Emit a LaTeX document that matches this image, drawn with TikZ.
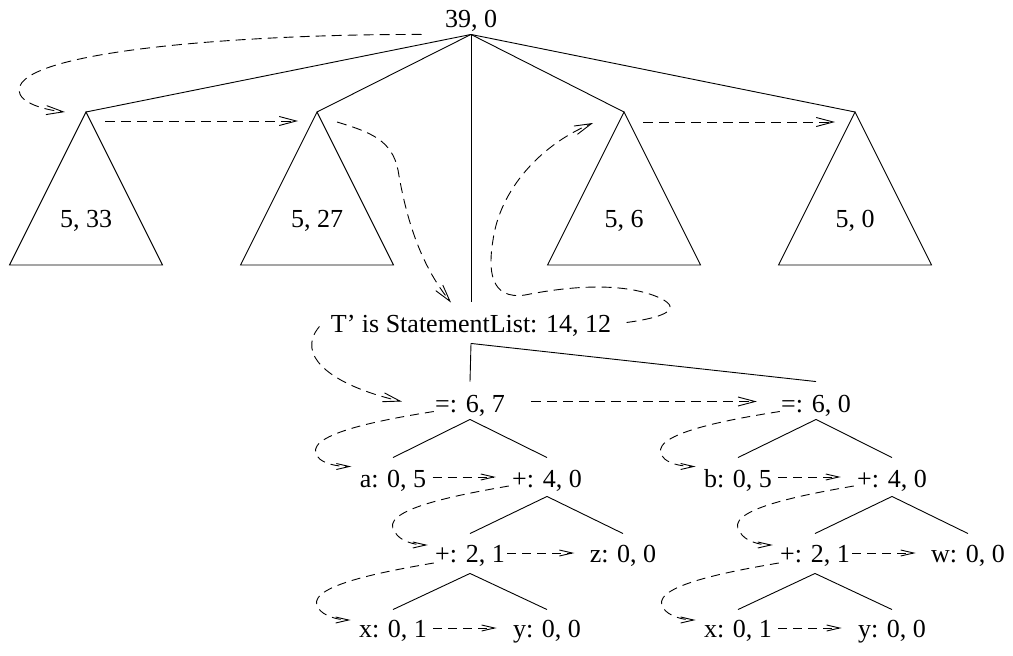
\documentclass[tikz,border=0pt]{standalone}
\usepackage{fontspec}
\setmainfont{Liberation Serif}
\usetikzlibrary{arrows.meta}
\begin{document}
\begin{tikzpicture}[x=1pt,y=-1pt,line width=0.9pt,
  lbl/.style={anchor=base,inner xsep=1pt,inner ysep=0pt,text height=18pt,text depth=7pt,font=\fontsize{26}{30}\selectfont},
  trav/.style={dash pattern=on 10pt off 6pt,-{Straight Barb[length=17pt,width=9pt]}},
  travs/.style={dash pattern=on 9pt off 6pt,-{Straight Barb[length=13pt,width=6pt]}}]
\useasboundingbox (0,0) rectangle (1013,656);
% upper level
\node[lbl] (root) at (471,27) {39, 0};
\coordinate (t1) at (86,112);
\coordinate (t2) at (317,112);
\coordinate (t3) at (624,112);
\coordinate (t4) at (855,112);
\foreach \t in {t1,t2,t3,t4}{
  \draw (\t) -- ++(-76.5,153) -- ++(153,0) -- cycle;
  \draw (root.south) -- (\t);
}
\node[lbl] (s1) at (86,227) {5, 33};
\node[lbl] (s2) at (317,227) {5, 27};
\node[lbl] (s3) at (624,227) {5, 6};
\node[lbl] (s4) at (855,227) {5, 0};
\node[lbl] (tl) at (471,332) {T' is StatementList: 14, 12};
\draw (root.south) -- ([yshift=12pt]tl.north);
% lower trees
\node[lbl] (e1) at (470,412) {=: 6, 7};
\node[lbl] (a)  at (393,487) {a: 0, 5};
\node[lbl] (p1) at (547,487) {+: 4, 0};
\node[lbl] (q1) at (470,562) {+: 2, 1};
\node[lbl] (z)  at (623,562) {z: 0, 0};
\node[lbl] (x1) at (393,637) {x: 0, 1};
\node[lbl] (y1) at (547,637) {y: 0, 0};
\node[lbl] (e2) at (816,412) {=: 6, 0};
\node[lbl] (b)  at (738,487) {b: 0, 5};
\node[lbl] (p2) at (892,487) {+: 4, 0};
\node[lbl] (q2) at (815,562) {+: 2, 1};
\node[lbl] (w)  at (968,562) {w: 0, 0};
\node[lbl] (x2) at (738,637) {x: 0, 1};
\node[lbl] (y2) at (892,637) {y: 0, 0};
\draw ([yshift=-4pt]tl.south) -- ([yshift=12pt]e1.north);
\draw ([yshift=-4pt]tl.south) -- ([yshift=12pt]e2.north);
\draw (e1.south) -- ([yshift=11pt]a.north);
\draw (e1.south) -- ([yshift=11pt]p1.north);
\draw ([yshift=-2pt]p1.south) -- ([yshift=10pt]q1.north);
\draw ([yshift=-2pt]p1.south) -- ([yshift=10pt]z.north);
\draw ([yshift=-4pt]q1.south) -- ([yshift=9pt]x1.north);
\draw ([yshift=-4pt]q1.south) -- ([yshift=9pt]y1.north);
\draw (e2.south) -- ([yshift=11pt]b.north);
\draw (e2.south) -- ([yshift=11pt]p2.north);
\draw ([yshift=-2pt]p2.south) -- ([yshift=10pt]q2.north);
\draw ([yshift=-2pt]p2.south) -- ([yshift=10pt]w.north);
\draw ([yshift=-4pt]q2.south) -- ([yshift=9pt]x2.north);
\draw ([yshift=-4pt]q2.south) -- ([yshift=9pt]y2.north);
% traversal arrows, upper
\draw[trav] ([xshift=-22pt]root.south west) .. controls (250,34) and (20,50) .. (19,90)
  .. controls (19,103) and (45,110) .. ([xshift=-21pt]t1);
\draw[trav] ([xshift=19pt,yshift=-9pt]t1) -- ([xshift=-19pt,yshift=-9pt]t2);
\draw[trav] ([xshift=20pt,yshift=-10pt]t2) .. controls (370,132) and (392,140) .. (398,170)
  .. controls (408,230) and (425,270) .. ([xshift=-20pt,yshift=11pt]tl.north);
\draw[trav] ([xshift=14pt,yshift=4pt]tl.east) .. controls (660,318) and (685,310) .. (660,298)
  .. controls (620,280) and (560,288) .. (525,295)
  .. controls (490,300) and (488,270) .. (493,240)
  .. controls (500,190) and (540,145) .. ([xshift=-31pt,yshift=-11pt]t3);
\draw[trav] ([xshift=19pt,yshift=-10pt]t3) -- ([xshift=-20pt,yshift=-10pt]t4);
\draw[trav] ([xshift=-10pt]tl.west) .. controls (295,355) and (330,385) .. ([xshift=-32pt,yshift=5pt]e1.west);
\draw[trav] ([xshift=25pt,yshift=5pt]e1.east) -- ([xshift=-23pt,yshift=5pt]e2.west);
% traversal arrows, left tree
\draw[travs] ([yshift=-5pt]e1.west) .. controls (380,420) and (300,435) .. (318,457)
  .. controls (322,463) and (335,466.5) .. ([xshift=-7pt,yshift=15pt]a.west);
\draw[travs] ([xshift=5pt,yshift=4.5pt]a.east) -- ([xshift=-15pt,yshift=4.5pt]p1.west);
\draw[travs] ([xshift=-2pt,yshift=-4.5pt]p1.west) .. controls (457,495) and (377,510) .. (395,532)
  .. controls (399,540) and (412,545) .. ([xshift=-6pt,yshift=11.5pt]q1.west);
\draw[travs] ([xshift=1pt,yshift=3.5pt]q1.east) -- ([xshift=-14pt,yshift=3.5pt]z.west);
\draw[travs] ([yshift=-6.5pt]q1.west) .. controls (381,572) and (301,587) .. (319,609)
  .. controls (323,615) and (336,620) .. ([xshift=-7pt,yshift=11.5pt]x1.west);
\draw[travs] ([xshift=5pt,yshift=3.5pt]x1.east) -- ([xshift=-15pt,yshift=3.5pt]y1.west);
% traversal arrows, right tree
\draw[travs] ([yshift=-5pt]e2.west) .. controls (725,420) and (645,435) .. (663,457)
  .. controls (667,463) and (680,466.5) .. ([xshift=-7pt,yshift=15pt]b.west);
\draw[travs] ([xshift=5pt,yshift=4.5pt]b.east) -- ([xshift=-15pt,yshift=4.5pt]p2.west);
\draw[travs] ([xshift=-2pt,yshift=-4.5pt]p2.west) .. controls (802,495) and (722,510) .. (740,532)
  .. controls (744,540) and (757,545) .. ([xshift=-6pt,yshift=11.5pt]q2.west);
\draw[travs] ([xshift=1pt,yshift=3.5pt]q2.east) -- ([xshift=-14pt,yshift=3.5pt]w.west);
\draw[travs] ([yshift=-6.5pt]q2.west) .. controls (726,572) and (646,587) .. (664,609)
  .. controls (668,615) and (681,620) .. ([xshift=-7pt,yshift=11.5pt]x2.west);
\draw[travs] ([xshift=5pt,yshift=3.5pt]x2.east) -- ([xshift=-15pt,yshift=3.5pt]y2.west);
\end{tikzpicture}
\end{document}
